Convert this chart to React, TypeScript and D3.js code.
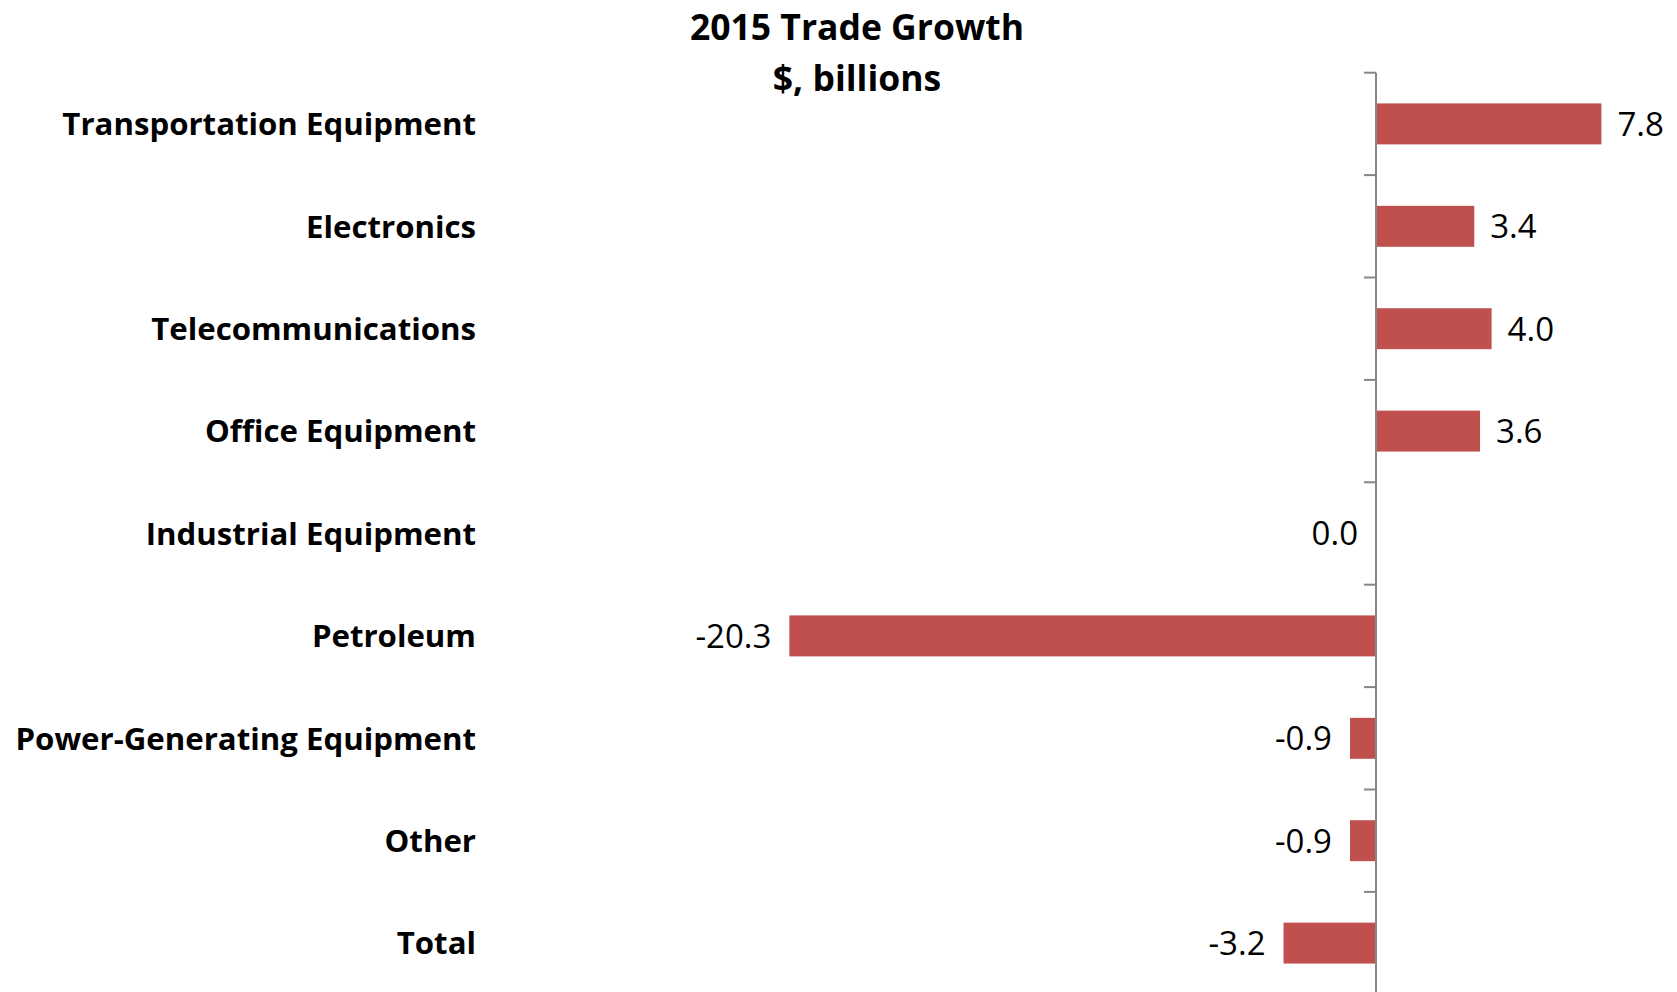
import React from "react";
import * as d3 from "d3";

const categories = [
  "Transportation Equipment",
  "Electronics",
  "Telecommunications",
  "Office Equipment",
  "Industrial Equipment",
  "Petroleum",
  "Power-Generating Equipment",
  "Other",
  "Total",
];
const values = [7.8, 3.4, 4.0, 3.6, 0.0, -20.3, -0.9, -0.9, -3.2];
const titleLines = ["2015 Trade Growth", "$, billions"];

const W = 1677;
const H = 992;
const FONT = "'Open Sans', 'Liberation Sans', sans-serif";
const BAR = "#C0504D";
const AXIS = "#868686";

export default function App() {
  const zeroX = 1376;
  const perUnit = 28.9;
  const x = d3
    .scaleLinear()
    .domain([-25, 10])
    .range([zeroX - 25 * perUnit, zeroX + 10 * perUnit]);
  const y = d3
    .scaleBand<string>()
    .domain(categories)
    .range([72.7, 72.7 + 9 * 102.4])
    .paddingInner(0.6)
    .paddingOuter(0.3);
  const step = y.step();
  const top = 72.7;
  const ticks = d3.range(categories.length + 1).map((i) => top + i * step);

  return (
    <svg
      width={W}
      height={H}
      style={{ position: "absolute", left: 0, top: 0, background: "#fff" }}
    >
      <g fontFamily={FONT} fontWeight="bold" fill="#000" textAnchor="middle" fontSize={35.5}>
        <text x={857} y={40}>{titleLines[0]}</text>
        <text x={857} y={91}>{titleLines[1]}</text>
      </g>
      {categories.map((c, i) => {
        const v = values[i];
        const y0 = y(c)!;
        const bw = y.bandwidth();
        const x0 = Math.min(x(0), x(v));
        const w = Math.abs(x(v) - x(0));
        const cy = y0 + bw / 2;
        return (
          <g key={c}>
            <rect x={x0} y={y0} width={w} height={bw} fill={BAR} />
            <text
              x={476}
              y={cy}
              dy="0.36em"
              textAnchor="end"
              fontFamily={FONT}
              fontWeight="bold"
              fontSize={31.2}
            >
              {c}
            </text>
            <text
              x={v > 0 ? x(v) + 16 : x(v) - 18}
              y={cy}
              dy="0.36em"
              textAnchor={v > 0 ? "start" : "end"}
              fontFamily={FONT}
              fontSize={33}
            >
              {v.toFixed(1)}
            </text>
          </g>
        );
      })}
      <line x1={zeroX} x2={zeroX} y1={top} y2={H} stroke={AXIS} strokeWidth={2} />
      {ticks.map((t, i) => (
        <line key={i} x1={zeroX - 12} x2={zeroX} y1={t} y2={t} stroke={AXIS} strokeWidth={2} />
      ))}
    </svg>
  );
}
